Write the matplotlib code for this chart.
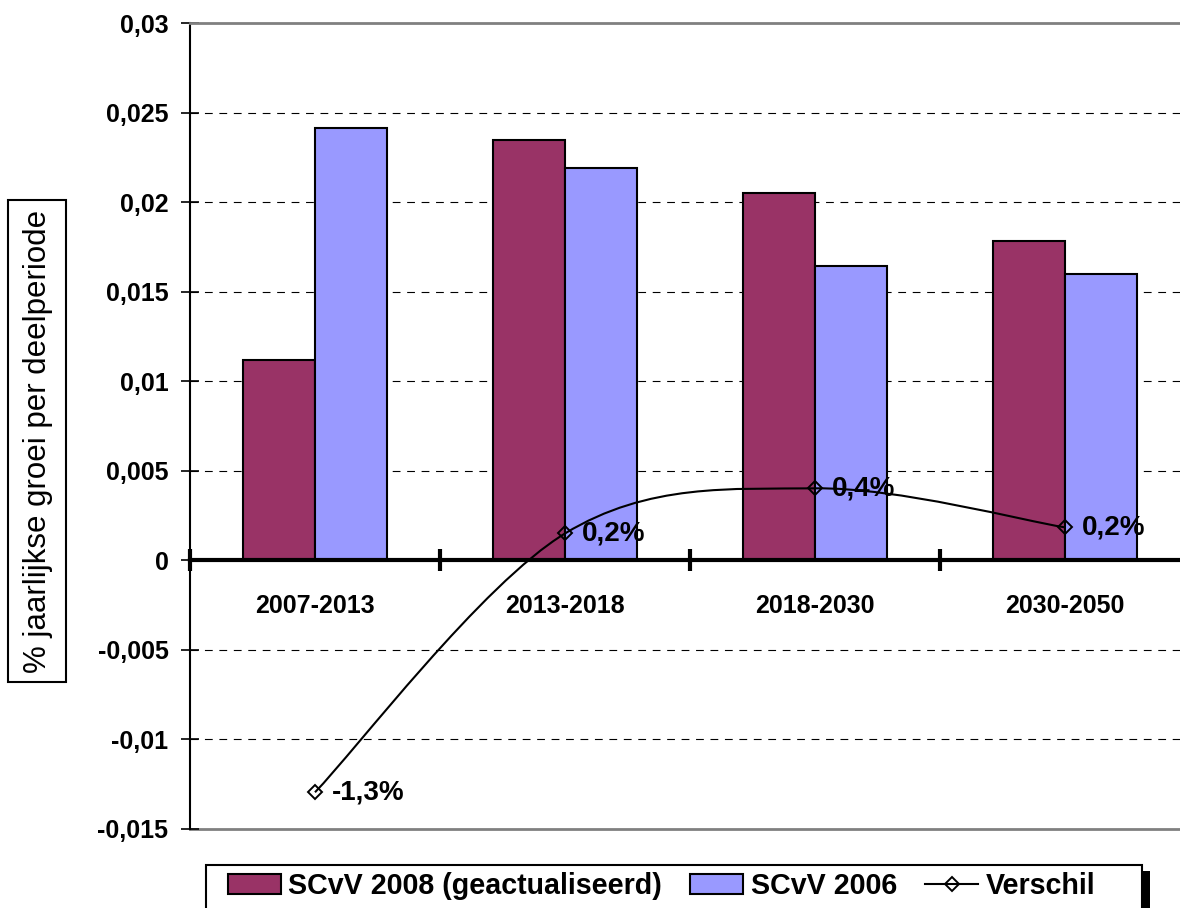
import matplotlib
matplotlib.use("Agg")
import matplotlib.pyplot as plt
from matplotlib.path import Path
from matplotlib.patches import PathPatch, Rectangle
from matplotlib.lines import Line2D

plt.rcParams['font.family'] = ['Liberation Sans', 'DejaVu Sans']

# data
periods = ['2007-2013', '2013-2018', '2018-2030', '2030-2050']
scvv_2008 = [0.01117, 0.02345, 0.02049, 0.01781]
scvv_2006 = [0.02412, 0.02188, 0.01641, 0.01597]
verschil = [-0.01295, 0.0015, 0.00402, 0.00184]
verschil_labels = ['-1,3%', '0,2%', '0,4%', '0,2%']
yticks = [-0.015, -0.01, -0.005, 0, 0.005, 0.01, 0.015, 0.02, 0.025, 0.03]
series_names = ['SCvV 2008 (geactualiseerd)', 'SCvV 2006', 'Verschil']

MAROON = '#993366'
LILAC = '#9999FF'


def smooth_path(xs, ys):
    # excel style smoothed line: bezier segments with catmull-rom handles
    n = len(xs)
    verts = [(xs[0], ys[0])]
    codes = [Path.MOVETO]
    for i in range(n - 1):
        a = max(i - 1, 0)
        b = min(i + 2, n - 1)
        c1 = (xs[i] + (xs[i + 1] - xs[a]) / 6, ys[i] + (ys[i + 1] - ys[a]) / 6)
        c2 = (xs[i + 1] - (xs[b] - xs[i]) / 6, ys[i + 1] - (ys[b] - ys[i]) / 6)
        verts += [c1, c2, (xs[i + 1], ys[i + 1])]
        codes += [Path.CURVE4] * 3
    return Path(verts, codes)


def fmt(v, _=None):
    if abs(v) < 1e-12:
        return '0'
    return f"{round(v, 4):g}".replace('.', ',')


W, H = 1180, 908
fig = plt.figure(figsize=(W / 100, H / 100), dpi=100)
ax = fig.add_axes([190 / W, 79 / H, 1000 / W, 806 / H])

x = list(range(len(periods)))
bw = 0.288
b1 = ax.bar([i - bw / 2 for i in x], scvv_2008, width=bw, color=MAROON,
            edgecolor='black', linewidth=1.5, zorder=2)
b2 = ax.bar([i + bw / 2 for i in x], scvv_2006, width=bw, color=LILAC,
            edgecolor='black', linewidth=1.5, zorder=2)

ax.add_patch(PathPatch(smooth_path(x, verschil), fill=False, edgecolor='black',
                       linewidth=1.5, zorder=4))
ax.plot(x, verschil, ls='none', marker='D', ms=7.5, mfc='none', mec='black',
        mew=1.4, zorder=5)
for i, (v, lbl) in enumerate(zip(verschil, verschil_labels)):
    ax.annotate(lbl, (i, v), xytext=(12, 0), textcoords='offset points',
                ha='left', va='center', fontsize=20, fontweight='bold', zorder=6)

# dashed gridlines
for v in yticks[1:-1]:
    if v != 0:
        ax.axhline(v, color='black', lw=0.8, dashes=(7, 6), zorder=0)

ax.set_xlim(-0.5, 3.5)
ax.set_ylim(-0.015, 0.03)

ax.spines['right'].set_visible(False)
ax.spines['top'].set_color('#808080')
ax.spines['top'].set_linewidth(2)
ax.spines['left'].set_linewidth(1.5)
ax.spines['bottom'].set_position(('data', 0))
ax.spines['bottom'].set_linewidth(3)
ax.spines['bottom'].set_zorder(3)
ax.axhline(-0.015, color='#808080', lw=2, clip_on=False, zorder=1)

ax.set_yticks(yticks)
ax.set_yticklabels([fmt(v) for v in yticks])
ax.tick_params(axis='y', direction='inout', length=13, width=1.2, pad=9,
               labelsize=18)
for t in ax.get_yticklabels():
    t.set_fontweight('bold')

ax.set_xticks([-0.5, 0.5, 1.5, 2.5, 3.5])
ax.set_xticklabels([])
ax.tick_params(axis='x', which='major', direction='inout', length=16, width=3)
ax.set_xticks(x, minor=True)
ax.set_xticklabels(periods, minor=True)
ax.tick_params(axis='x', which='minor', length=0, pad=24, labelsize=18)
for t in ax.get_xticklabels(minor=True):
    t.set_fontweight('bold')

# y label in its own box
fig.patches.append(Rectangle((8 / W, 1 - 682 / H), 58 / W, 482 / H,
                             transform=fig.transFigure, fc='white', ec='black',
                             lw=1.5, zorder=1))
fig.text(38 / W, 1 - 441 / H, '% jaarlijkse groei per deelperiode', rotation=90,
         ha='center', va='center', fontsize=22.5, zorder=2)

# legend with a hand drawn frame and shadow
fig.patches.append(Rectangle((1142 / W, -0.01), 8 / W, (908 - 871) / H + 0.01,
                             transform=fig.transFigure, fc='black', ec='none',
                             zorder=2.9))
fig.patches.append(Rectangle((206 / W, -0.01), (1142 - 206) / W, (908 - 865) / H + 0.01,
                             transform=fig.transFigure, fc='white', ec='black',
                             lw=1.5, zorder=3))
line_handle = Line2D([], [], color='black', lw=1.5, marker='D', ms=7.5,
                     mfc='none', mec='black', mew=1.4)
fig.legend([b1, b2, line_handle], series_names, loc='center left',
           bbox_to_anchor=(228 / W, 1 - 886 / H), ncol=3, frameon=False,
           prop=dict(weight='bold', size=20.6), handlelength=1.85,
           handleheight=0.66, handletextpad=0.25, columnspacing=1.0,
           borderpad=0, borderaxespad=0)

fig.savefig('out.png', dpi=100)
